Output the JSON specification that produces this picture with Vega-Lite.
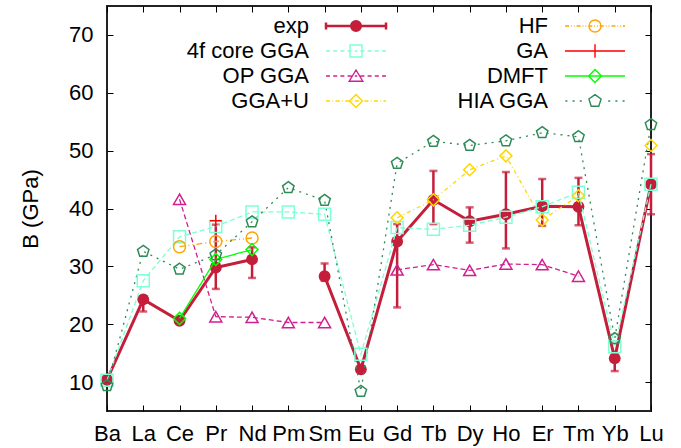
{
  "$schema": "https://vega.github.io/schema/vega-lite/v6.json",
  "width": 544,
  "height": 405,
  "autosize": "none",
  "padding": {"left": 107, "top": 6, "right": 30, "bottom": 37},
  "background": "white",
  "config": {
    "view": {"stroke": "#222222", "strokeWidth": 2},
    "font": "Liberation Sans",
    "axis": {"labelFont": "Liberation Sans", "titleFont": "Liberation Sans", "grid": false},
    "legend": {"labelFont": "Liberation Sans"}
  },
  "datasets": {
    "d": [
      {"el": "Ba", "s": "exp", "B": 10.4, "seg": 1},
      {"el": "La", "s": "exp", "B": 24.3, "seg": 1, "lo": 22.2, "hi": 24.8},
      {"el": "Ce", "s": "exp", "B": 20.6, "seg": 1},
      {"el": "Pr", "s": "exp", "B": 29.8, "seg": 1, "lo": 26.1, "hi": 37.2},
      {"el": "Nd", "s": "exp", "B": 31.2, "seg": 1, "lo": 28.0, "hi": 33.3},
      {"el": "Sm", "s": "exp", "B": 28.3, "seg": 2, "lo": 27.5, "hi": 30.5},
      {"el": "Eu", "s": "exp", "B": 12.2, "seg": 2},
      {"el": "Gd", "s": "exp", "B": 34.3, "seg": 2, "lo": 22.9, "hi": 37.3},
      {"el": "Tb", "s": "exp", "B": 41.5, "seg": 2, "lo": 37.3, "hi": 46.5},
      {"el": "Dy", "s": "exp", "B": 37.8, "seg": 2, "lo": 34.1, "hi": 40.2},
      {"el": "Ho", "s": "exp", "B": 39.0, "seg": 2, "lo": 33.1, "hi": 46.3},
      {"el": "Er", "s": "exp", "B": 40.4, "seg": 2, "lo": 37.0, "hi": 45.1},
      {"el": "Tm", "s": "exp", "B": 40.3, "seg": 2, "lo": 37.1, "hi": 45.3},
      {"el": "Yb", "s": "exp", "B": 14.1, "seg": 2, "lo": 11.9, "hi": 15.0},
      {"el": "Lu", "s": "exp", "B": 44.2, "seg": 2, "lo": 39.0, "hi": 49.4},

      {"el": "Ba", "s": "4f core GGA", "B": 10.3, "seg": 1},
      {"el": "La", "s": "4f core GGA", "B": 27.5, "seg": 1},
      {"el": "Ce", "s": "4f core GGA", "B": 35.1, "seg": 1},
      {"el": "Pr", "s": "4f core GGA", "B": 36.9, "seg": 1},
      {"el": "Nd", "s": "4f core GGA", "B": 39.4, "seg": 1},
      {"el": "Pm", "s": "4f core GGA", "B": 39.4, "seg": 1},
      {"el": "Sm", "s": "4f core GGA", "B": 39.0, "seg": 1},
      {"el": "Eu", "s": "4f core GGA", "B": 14.8, "seg": 1},
      {"el": "Gd", "s": "4f core GGA", "B": 36.7, "seg": 1},
      {"el": "Tb", "s": "4f core GGA", "B": 36.4, "seg": 1},
      {"el": "Dy", "s": "4f core GGA", "B": 37.1, "seg": 1},
      {"el": "Ho", "s": "4f core GGA", "B": 38.5, "seg": 1},
      {"el": "Er", "s": "4f core GGA", "B": 40.3, "seg": 1},
      {"el": "Tm", "s": "4f core GGA", "B": 42.8, "seg": 1},
      {"el": "Yb", "s": "4f core GGA", "B": 16.1, "seg": 1},
      {"el": "Lu", "s": "4f core GGA", "B": 44.2, "seg": 1},

      {"el": "Ce", "s": "OP GGA", "B": 41.6, "seg": 1},
      {"el": "Pr", "s": "OP GGA", "B": 21.3, "seg": 1},
      {"el": "Nd", "s": "OP GGA", "B": 21.2, "seg": 1},
      {"el": "Pm", "s": "OP GGA", "B": 20.3, "seg": 1},
      {"el": "Sm", "s": "OP GGA", "B": 20.3, "seg": 1},
      {"el": "Gd", "s": "OP GGA", "B": 29.4, "seg": 2},
      {"el": "Tb", "s": "OP GGA", "B": 30.3, "seg": 2},
      {"el": "Dy", "s": "OP GGA", "B": 29.3, "seg": 2},
      {"el": "Ho", "s": "OP GGA", "B": 30.4, "seg": 2},
      {"el": "Er", "s": "OP GGA", "B": 30.3, "seg": 2},
      {"el": "Tm", "s": "OP GGA", "B": 28.3, "seg": 2},

      {"el": "Gd", "s": "GGA+U", "B": 38.4, "seg": 1},
      {"el": "Tb", "s": "GGA+U", "B": 41.5, "seg": 1},
      {"el": "Dy", "s": "GGA+U", "B": 46.7, "seg": 1},
      {"el": "Ho", "s": "GGA+U", "B": 49.1, "seg": 1},
      {"el": "Er", "s": "GGA+U", "B": 38.0, "seg": 1},
      {"el": "Tm", "s": "GGA+U", "B": 42.2, "seg": 1},
      {"el": "Lu", "s": "GGA+U", "B": 50.9, "seg": 2},

      {"el": "Ce", "s": "HF", "B": 33.4, "seg": 1},
      {"el": "Pr", "s": "HF", "B": 34.3, "seg": 1},
      {"el": "Nd", "s": "HF", "B": 34.9, "seg": 1},

      {"el": "Pr", "s": "GA", "B": 37.9, "seg": 1},

      {"el": "Ce", "s": "DMFT", "B": 21.0, "seg": 1},
      {"el": "Pr", "s": "DMFT", "B": 31.2, "seg": 1},
      {"el": "Nd", "s": "DMFT", "B": 32.9, "seg": 1},

      {"el": "Ba", "s": "HIA GGA", "B": 9.4, "seg": 1},
      {"el": "La", "s": "HIA GGA", "B": 32.6, "seg": 1},
      {"el": "Ce", "s": "HIA GGA", "B": 29.5, "seg": 1},
      {"el": "Pr", "s": "HIA GGA", "B": 32.0, "seg": 1},
      {"el": "Nd", "s": "HIA GGA", "B": 37.7, "seg": 1},
      {"el": "Pm", "s": "HIA GGA", "B": 43.6, "seg": 1},
      {"el": "Sm", "s": "HIA GGA", "B": 41.4, "seg": 1},
      {"el": "Eu", "s": "HIA GGA", "B": 8.4, "seg": 1},
      {"el": "Gd", "s": "HIA GGA", "B": 47.8, "seg": 1},
      {"el": "Tb", "s": "HIA GGA", "B": 51.6, "seg": 1},
      {"el": "Dy", "s": "HIA GGA", "B": 50.9, "seg": 1},
      {"el": "Ho", "s": "HIA GGA", "B": 51.7, "seg": 1},
      {"el": "Er", "s": "HIA GGA", "B": 53.1, "seg": 1},
      {"el": "Tm", "s": "HIA GGA", "B": 52.4, "seg": 1},
      {"el": "Yb", "s": "HIA GGA", "B": 17.5, "seg": 1},
      {"el": "Lu", "s": "HIA GGA", "B": 54.5, "seg": 1}
    ]
  },
  "data": {"name": "d"},
  "resolve": {"axis": {"x": "independent", "y": "independent"}},
  "layer": [
    {
      "transform": [{"filter": "datum.s == 'exp'"}],
      "mark": {"type": "line", "strokeWidth": 3},
      "encoding": {
        "x": {"field": "el", "type": "nominal",
              "sort": ["Ba","La","Ce","Pr","Nd","Pm","Sm","Eu","Gd","Tb","Dy","Ho","Er","Tm","Yb","Lu"],
              "scale": {"type": "point", "padding": 0},
              "axis": {"orient": "bottom", "title": null, "labelFontSize": 22, "labelColor": "black", "labelAngle": 0,
                       "tickSize": -6, "tickColor": "black", "tickWidth": 1, "domain": false, "labelPadding": 18}},
        "y": {"field": "B", "type": "quantitative",
              "scale": {"domain": [5, 75], "nice": false, "zero": false},
              "axis": {"orient": "left", "title": "B (GPa)", "values": [10,20,30,40,50,60,70],
                       "titleFontSize": 22, "titleFontWeight": "normal", "titleColor": "black",
                       "labelFontSize": 22, "labelColor": "black", "tickSize": -6, "tickColor": "black", "tickWidth": 1,
                       "domain": false, "labelPadding": 20, "titlePadding": 26}},
        "color": {"field": "s", "type": "nominal",
                  "scale": {"domain": ["exp","4f core GGA","OP GGA","GGA+U","HF","GA","DMFT","HIA GGA"],
                            "range": ["#c41e3a","#7fffd4","#d0208f","#ffd700","#ffa500","#ff0000","#00ff00","#2e8b57"]},
                  "legend": {"orient": "none", "legendX": 72, "legendY": 9, "columns": 2, "columnPadding": 27,
                             "rowPadding": 3, "padding": 0, "title": null, "labelFontSize": 22, "labelColor": "black",
                             "labelAlign": "right", "labelOffset": -58, "symbolOffset": 166, "symbolSize": 256,
                             "labelLimit": 300,
                             "encode": {"symbols": {"update": {
                               "shape": {"signal": "datum.value == 'exp' ? 'M-3.75,0H3.75M-3.75,-0.45V0.45M3.75,-0.45V0.45M0.6,0A0.6,0.6,0,1,1,-0.6,0A0.6,0.6,0,1,1,0.6,0M0.36,0A0.36,0.36,0,1,1,-0.36,0A0.36,0.36,0,1,1,0.36,0M0.13,0A0.13,0.13,0,1,1,-0.13,0A0.13,0.13,0,1,1,0.13,0' : datum.value == '4f core GGA' ? 'M-3.75,0H-3.25M-2.85,0H-2.35M-1.95,0H-1.45M-1.05,0H-0.55M-0.15,0H0.15M0.55,0H1.05M1.45,0H1.95M2.35,0H2.85M3.25,0H3.75M-0.75,-0.75H0.75V0.75H-0.75Z' : datum.value == 'OP GGA' ? 'M-3.75,0H-3.25M-2.85,0H-2.35M-1.95,0H-1.45M-1.05,0H-0.55M-0.15,0H0.15M0.55,0H1.05M1.45,0H1.95M2.35,0H2.85M3.25,0H3.75M0,-0.75L0.85,0.65H-0.85Z' : datum.value == 'GGA+U' ? 'M-3.75,0H-3.25M-2.95,0H-2.85M-2.55,0H-2.05M-1.75,0H-1.65M-1.35,0H-0.85M-0.55,0H-0.45M-0.15,0H0.35M0.65,0H0.75M1.05,0H1.55M1.85,0H1.95M2.25,0H2.75M3.05,0H3.15M3.45,0H3.75M0,-0.8L0.8,0L0,0.8L-0.8,0Z' : datum.value == 'HF' ? 'M-3.75,0H-3.25M-3.0,0H-2.9M-2.65,0H-2.55M-2.3,0H-1.8M-1.55,0H-1.45M-1.2,0H-1.1M-0.85,0H-0.35M-0.1,0H0M0.25,0H0.35M0.6,0H1.1M1.35,0H1.45M1.7,0H1.8M2.05,0H2.55M2.8,0H2.9M3.15,0H3.25M3.5,0H3.75M0.75,0A0.75,0.75,0,1,1,-0.75,0A0.75,0.75,0,1,1,0.75,0Z' : datum.value == 'GA' ? 'M-3.75,0H3.75M0,-0.85V0.85' : datum.value == 'DMFT' ? 'M-3.75,0H3.75M0,-0.8L0.8,0L0,0.8L-0.8,0Z' : 'M-3.7,0H-3.45M-2.8,0H-2.55M-1.9,0H-1.65M1.65,0H1.9M2.55,0H2.8M3.45,0H3.7M0,-0.8L0.76,-0.25L0.47,0.65L-0.47,0.65L-0.76,-0.25Z'"},
                               "fill": {"value": "transparent"},
                               "stroke": {"scale": "color", "field": "value"},
                               "strokeWidth": {"signal": "datum.value == 'exp' ? 2.5 : 1.4"},
                               "strokeDash": {"value": []},
                               "opacity": {"value": 1}
                             }}}}},
        "detail": {"field": "seg", "type": "nominal"}
      }
    },
    {
      "transform": [{"filter": "datum.s == 'exp' && isValid(datum.lo)"}],
      "mark": {"type": "errorbar", "color": "#c41e3a", "ticks": {"size": 8, "thickness": 2.5}, "rule": {"strokeWidth": 2.5}},
      "encoding": {
        "x": {"field": "el", "type": "nominal",
              "sort": ["Ba","La","Ce","Pr","Nd","Pm","Sm","Eu","Gd","Tb","Dy","Ho","Er","Tm","Yb","Lu"],
              "axis": null},
        "y": {"field": "lo", "type": "quantitative", "axis": null},
        "y2": {"field": "hi"}
      }
    },
    {
      "transform": [{"filter": "datum.s == 'exp'"}],
      "mark": {"type": "circle", "size": 140, "opacity": 1, "color": "#c41e3a"},
      "encoding": {
        "x": {"field": "el", "type": "nominal",
              "sort": ["Ba","La","Ce","Pr","Nd","Pm","Sm","Eu","Gd","Tb","Dy","Ho","Er","Tm","Yb","Lu"],
              "axis": null},
        "y": {"field": "B", "type": "quantitative", "axis": null}
      }
    },
    {
      "transform": [{"filter": "datum.s != 'exp' && datum.s != 'GA'"}],
      "mark": {"type": "line"},
      "encoding": {
        "x": {"field": "el", "type": "nominal",
              "sort": ["Ba","La","Ce","Pr","Nd","Pm","Sm","Eu","Gd","Tb","Dy","Ho","Er","Tm","Yb","Lu"],
              "axis": {"orient": "top", "labels": false, "title": null, "tickSize": -6, "tickColor": "black", "tickWidth": 1, "domain": false}},
        "y": {"field": "B", "type": "quantitative",
              "axis": {"orient": "right", "labels": false, "title": null, "values": [10,20,30,40,50,60,70],
                       "tickSize": -6, "tickColor": "black", "tickWidth": 1, "domain": false}},
        "color": {"field": "s", "type": "nominal"},
        "strokeDash": {"field": "s", "type": "nominal", "legend": null,
                       "scale": {"domain": ["4f core GGA","OP GGA","GGA+U","HF","DMFT","HIA GGA"],
                                 "range": [[5,3],[5,3],[4,3,1,3],[6,3,1,3,1,3],[1,0],[2,5]]}},
        "strokeWidth": {"field": "s", "type": "nominal", "legend": null,
                        "scale": {"domain": ["4f core GGA","OP GGA","GGA+U","HF","DMFT","HIA GGA"],
                                  "range": [1.3,1.3,1.4,1.4,1.5,2]}},
        "detail": {"field": "seg", "type": "nominal"}
      }
    },
    {
      "transform": [{"filter": "datum.s != 'exp'"}],
      "mark": {"type": "point", "filled": false, "size": 144, "strokeWidth": 1.5, "opacity": 1},
      "encoding": {
        "x": {"field": "el", "type": "nominal",
              "sort": ["Ba","La","Ce","Pr","Nd","Pm","Sm","Eu","Gd","Tb","Dy","Ho","Er","Tm","Yb","Lu"],
              "axis": null},
        "y": {"field": "B", "type": "quantitative", "axis": null},
        "color": {"field": "s", "type": "nominal"},
        "shape": {"field": "s", "type": "nominal", "legend": null,
                  "scale": {"domain": ["4f core GGA","OP GGA","GGA+U","HF","GA","DMFT","HIA GGA"],
                            "range": ["square","triangle-up","diamond","circle","M-1,0H1M0,-1V1","diamond",
                                      "M0,-1L0.951,-0.309L0.588,0.809L-0.588,0.809L-0.951,-0.309Z"]}}
      }
    }
  ]
}
